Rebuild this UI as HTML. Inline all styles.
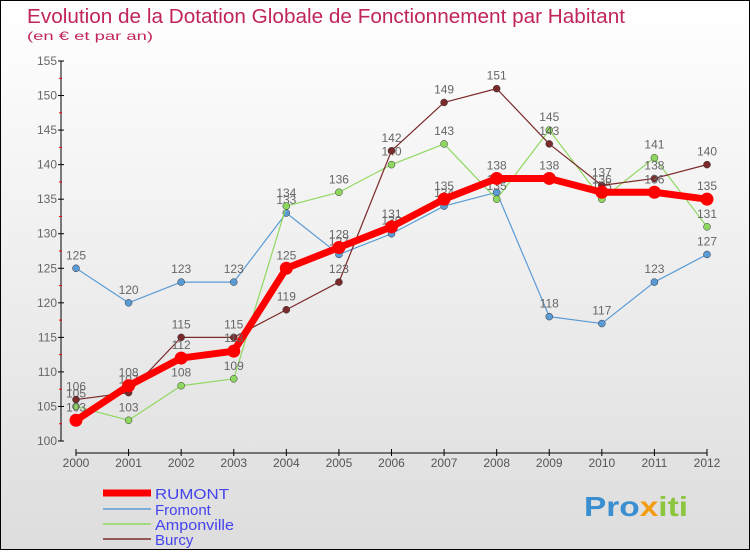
<!DOCTYPE html>
<html><head><meta charset="utf-8"><style>
body{margin:0;width:750px;height:550px;overflow:hidden;font-family:"Liberation Sans",sans-serif}
#wrap{position:relative;width:748px;height:548px;border:1px solid #000;background:linear-gradient(#fff,#ddd)}
</style></head><body>
<div id="wrap">
<svg id="chart" width="748" height="548">
<text x="26" y="22" font-size="20" fill="#c0245c" textLength="598" lengthAdjust="spacingAndGlyphs">Evolution de la Dotation Globale de Fonctionnement par Habitant</text>
<text x="26" y="39" font-size="12" fill="#c0245c" textLength="126" lengthAdjust="spacingAndGlyphs">(en € et par an)</text>
<g id="axes"></g><g id="series"></g>
<g>
<line x1="102" y1="492" x2="150" y2="492" stroke="#f00" stroke-width="7"/>
<text x="154" y="498" font-size="15" fill="#4444ee" textLength="74" lengthAdjust="spacingAndGlyphs">RUMONT</text>
<line x1="102" y1="508" x2="150" y2="508" stroke="#5b9bd5" stroke-width="1.5"/>
<text x="154" y="514" font-size="15" fill="#4444ee">Fromont</text>
<line x1="102" y1="523" x2="150" y2="523" stroke="#8fd860" stroke-width="1.5"/>
<text x="154" y="529" font-size="15" fill="#4444ee" textLength="79" lengthAdjust="spacingAndGlyphs">Amponville</text>
<line x1="102" y1="538" x2="150" y2="538" stroke="#7a2a2a" stroke-width="1.5"/>
<text x="154" y="544" font-size="15" fill="#4444ee">Burcy</text>
</g>
<text x="583" y="515" font-size="28" font-weight="bold" fill="#3a8fd0" textLength="104" lengthAdjust="spacingAndGlyphs">Pro<tspan fill="#f39c12">x</tspan><tspan fill="#8cc63f">iti</tspan></text>
</svg></div>
<script>
const years=[2000,2001,2002,2003,2004,2005,2006,2007,2008,2009,2010,2011,2012];
const yTicks=[100,105,110,115,120,125,130,135,140,145,150,155];
const rumont=[103,108,112,113,125,128,131,135,138,138,136,136,135];
const fromont=[125,120,123,123,133,127,130,134,136,118,117,123,127];
const amponville=[105,103,108,109,134,136,140,143,135,145,135,141,131];
const burcy=[106,107,115,115,119,123,142,149,151,143,137,138,140];
const NS="http://www.w3.org/2000/svg";
const X=i=>75+i*(631/12), Y=v=>440-(v-100)*380/55;
function mk(t,a,p){const e=document.createElementNS(NS,t);for(const k in a)e.setAttribute(k,a[k]);p.appendChild(e);return e;}
const ax=document.getElementById('axes');
let l=mk('line',{x1:60,y1:60,x2:60,y2:440,stroke:'#000'},ax);


yTicks.forEach(v=>{
 mk('line',{x1:57,y1:Y(v),x2:63,y2:Y(v),stroke:'#000'},ax);
 if(v<155) mk('line',{x1:58,y1:Y(v+2.5),x2:61,y2:Y(v+2.5),stroke:'#f00'},ax);
 const t=mk('text',{x:56,y:Y(v)+4,'font-size':12,fill:'#666','text-anchor':'end'},ax);t.textContent=v;
 
 
});
l=mk('line',{x1:75,y1:452,x2:706,y2:452,stroke:'#000'},ax);


years.forEach((y,i)=>{
 mk('line',{x1:X(i),y1:448,x2:X(i),y2:455,stroke:'#000'},ax);
 const t=mk('text',{x:X(i),y:466,'font-size':12,fill:'#555','text-anchor':'middle'},ax);t.textContent=y;
 
 
});
const sg=document.getElementById('series');
function draw(name,d,c,w,r){
 const g=mk('g',{},sg);
 
 
 mk('polyline',{points:d.map((v,i)=>X(i)+','+Y(v)).join(' '),fill:'none',stroke:c,'stroke-width':w,'stroke-linejoin':'round'},g);
 d.forEach((v,i)=>{
  const p=mk('circle',{cx:X(i),cy:Y(v),r:r,fill:c,stroke:r>4?'none':'#333','stroke-width':0.5},g);
  
  
  const t=mk('text',{x:X(i),y:Y(v)-9,'font-size':12,fill:'#666','text-anchor':'middle'},g);t.textContent=v;
  
  
 });
}
draw('fromont',fromont,'#5b9bd5',1.2,3.5);
draw('amponville',amponville,'#8fd860',1.2,3.5);
draw('burcy',burcy,'#7a2a2a',1.2,3.5);
draw('rumont',rumont,'#f00',7,6.5);
</script>
</body></html>
